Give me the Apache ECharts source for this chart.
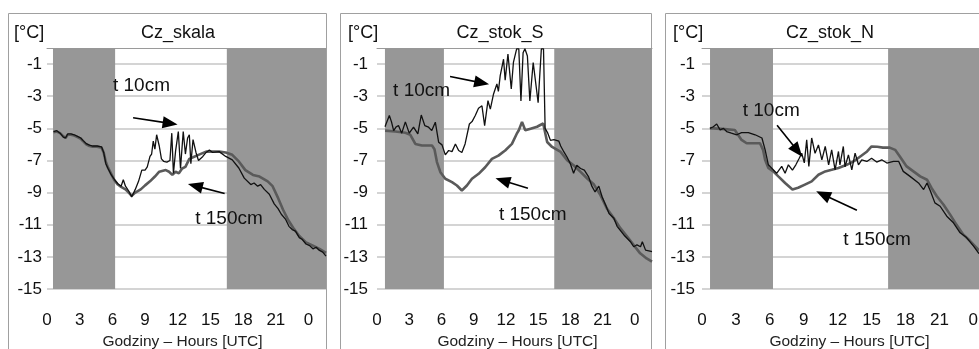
<!DOCTYPE html>
<html><head><meta charset="utf-8">
<script src="https://cdn.jsdelivr.net/npm/echarts@6/dist/echarts.min.js"></script>
<style>html,body{margin:0;padding:0;background:#fff}#c{width:979px;height:349px}</style>
</head><body><div id="c"></div>
<script>
// ---------- DATA ----------
const panelNames = ['Cz_skala', 'Cz_stok_S', 'Cz_stok_N'];
const seriesNames = ['t 10cm', 't 150cm'];
const unitLabel = '[°C]';
const xAxisTitle = 'Godziny – Hours [UTC]';

// [hour, °C]
const skala10 = [[0.6,-5.2],[0.9,-5.15],[1.2,-5.3],[1.5,-5.55],[1.7,-5.6],[1.9,-5.35],[2.2,-5.35],[2.5,-5.4],[2.8,-5.5],[3.1,-5.6],[3.3,-5.75],[3.6,-5.95],[3.9,-6.05],[4.2,-6.1],[4.6,-6.1],[5.0,-6.15],[5.2,-6.5],[5.4,-7.2],[5.6,-7.5],[5.9,-7.9],[6.2,-8.2],[6.5,-8.45],[6.8,-8.6],[7.0,-8.2],[7.2,-8.6],[7.5,-8.9],[7.77,-9.27],[8.1,-8.8],[8.4,-8.3],[8.7,-7.6],[9.0,-7.6],[9.2,-7.4],[9.45,-6.75],[9.6,-6.6],[9.75,-5.8],[9.9,-6.3],[10.06,-5.4],[10.3,-6.1],[10.5,-6.9],[10.7,-7.05],[11.0,-7.1],[11.28,-7.0],[11.45,-5.3],[11.6,-7.8],[11.8,-6.4],[12.05,-5.2],[12.25,-7.5],[12.5,-5.2],[12.7,-6.6],[12.9,-5.6],[13.06,-5.4],[13.2,-7.2],[13.4,-5.7],[13.67,-6.5],[13.9,-7.0],[14.3,-6.75],[14.6,-6.5],[14.9,-6.35],[15.2,-6.5],[15.8,-6.45],[16.4,-6.75],[17.0,-6.96],[17.6,-7.47],[18.1,-8.1],[18.7,-8.5],[19.0,-8.4],[19.33,-8.6],[19.6,-8.5],[19.94,-8.8],[20.4,-9.1],[20.85,-9.7],[21.2,-10.0],[21.5,-10.35],[21.9,-10.67],[22.2,-11.1],[22.5,-11.3],[22.8,-11.4],[23.15,-11.8],[23.4,-11.9],[23.76,-12.2],[24.1,-12.3],[24.4,-12.5],[24.7,-12.4],[25.0,-12.6],[25.3,-12.7],[25.6,-12.95]];
const skala150 = [[0.6,-5.25],[0.9,-5.2],[1.2,-5.3],[1.5,-5.5],[1.7,-5.6],[1.9,-5.4],[2.2,-5.4],[2.5,-5.45],[2.8,-5.55],[3.1,-5.65],[3.3,-5.8],[3.6,-6.0],[3.9,-6.1],[4.2,-6.15],[4.6,-6.15],[5.0,-6.2],[5.2,-6.5],[5.4,-7.1],[5.6,-7.45],[5.9,-7.85],[6.2,-8.25],[6.5,-8.5],[6.8,-8.65],[7.2,-8.8],[7.5,-9.0],[7.77,-9.2],[8.1,-9.0],[8.6,-8.8],[9.0,-8.55],[9.45,-8.3],[9.9,-8.0],[10.3,-7.7],[10.9,-7.6],[11.2,-7.7],[11.5,-7.9],[11.8,-7.7],[12.1,-7.8],[12.4,-7.5],[12.7,-7.4],[13.06,-6.9],[13.4,-6.8],[13.9,-6.65],[14.6,-6.45],[15.2,-6.45],[15.8,-6.45],[16.4,-6.5],[17.0,-6.65],[17.6,-7.06],[18.2,-7.6],[18.9,-7.9],[19.5,-8.0],[20.25,-8.3],[20.7,-8.6],[21.2,-9.33],[21.65,-10.05],[22.1,-10.67],[22.6,-11.2],[23.15,-11.7],[23.76,-12.1],[24.4,-12.3],[25.0,-12.5],[25.6,-12.75]];

const stokS10 = [[0.75,-4.9],[0.84,-4.73],[1.15,-4.2],[1.35,-4.6],[1.55,-5.14],[1.8,-4.9],[2.0,-4.83],[2.3,-5.3],[2.64,-4.6],[3.0,-5.3],[3.4,-4.93],[3.8,-5.35],[4.12,-4.17],[4.45,-4.83],[4.8,-4.93],[5.1,-5.14],[5.43,-4.62],[5.74,-5.87],[6.05,-6.03],[6.36,-6.65],[6.67,-6.38],[6.98,-6.45],[7.3,-5.97],[7.6,-6.38],[7.9,-6.5],[8.2,-5.97],[8.6,-4.73],[8.85,-4.58],[9.15,-4.2],[9.45,-3.75],[9.77,-3.6],[10.02,-4.83],[10.33,-3.28],[10.55,-3.8],[10.85,-2.86],[11.16,-2.24],[11.3,-2.7],[11.47,-1.72],[11.78,-0.7],[11.93,-2.0],[12.19,-0.38],[12.5,-2.55],[12.7,-0.9],[13.0,-0.05],[13.2,-0.05],[13.4,-3.3],[13.6,-0.3],[13.77,-0.05],[14.0,-0.5],[14.23,-3.3],[14.54,-0.9],[15.0,-3.4],[15.3,-0.05],[15.5,-0.05],[15.65,-5.0],[15.9,-5.3],[16.15,-5.75],[16.47,-5.7],[16.93,-5.8],[17.1,-6.1],[17.4,-6.47],[17.7,-6.8],[18.0,-7.2],[18.3,-7.8],[18.6,-7.3],[18.95,-7.5],[19.3,-7.6],[19.7,-8.02],[20.0,-8.6],[20.3,-8.96],[20.65,-8.6],[20.96,-9.27],[21.3,-9.8],[21.6,-10.3],[22.05,-10.6],[22.35,-11.1],[23.0,-11.65],[23.6,-12.06],[23.9,-12.37],[24.2,-12.25],[24.53,-12.37],[24.7,-12.06],[25.0,-12.58],[25.6,-12.67]];
const stokS150 = [[0.75,-5.14],[1.7,-5.2],[2.64,-5.28],[3.1,-5.4],[3.57,-5.97],[4.18,-6.07],[5.12,-6.07],[5.35,-6.3],[5.58,-7.1],[5.9,-7.73],[6.36,-8.14],[6.98,-8.35],[7.44,-8.56],[7.9,-8.87],[8.37,-8.56],[8.84,-8.14],[9.46,-7.83],[10.07,-7.42],[10.7,-6.9],[11.3,-6.7],[11.93,-6.38],[12.56,-5.97],[12.74,-5.85],[13.0,-5.35],[13.2,-5.12],[13.5,-4.6],[13.8,-5.12],[14.3,-5.02],[14.9,-4.9],[15.47,-4.7],[15.84,-5.85],[16.3,-6.16],[17.1,-6.47],[17.7,-6.99],[18.3,-7.3],[18.95,-7.71],[19.57,-8.12],[20.2,-8.5],[20.8,-9.16],[21.4,-9.99],[22.05,-10.6],[22.67,-11.23],[23.3,-11.75],[23.9,-12.27],[24.5,-12.78],[25.1,-13.1],[25.6,-13.3]];

const stokN10 = [[0.7,-5.0],[1.0,-4.9],[1.3,-4.73],[1.6,-5.1],[1.9,-5.0],[2.18,-5.2],[2.6,-5.3],[3.07,-5.4],[3.5,-5.27],[4.1,-5.27],[4.7,-5.4],[5.3,-5.6],[5.58,-6.33],[5.87,-7.27],[6.3,-7.58],[6.6,-7.8],[7.05,-7.37],[7.35,-7.8],[7.64,-7.27],[8.0,-7.6],[8.3,-7.27],[8.6,-6.86],[8.82,-6.55],[9.05,-7.15],[9.26,-5.72],[9.45,-7.37],[9.7,-5.6],[10.0,-6.55],[10.3,-6.03],[10.6,-6.96],[10.9,-6.13],[11.2,-7.27],[11.47,-6.34],[11.77,-7.58],[12.07,-6.44],[12.2,-7.27],[12.5,-6.13],[12.65,-7.4],[12.95,-6.65],[13.25,-7.58],[13.54,-6.55],[13.84,-7.27],[14.13,-6.96],[14.58,-7.06],[15.0,-6.86],[15.45,-7.1],[15.9,-6.96],[16.35,-7.16],[16.93,-7.06],[17.4,-7.06],[17.8,-7.68],[18.4,-7.99],[19.15,-8.4],[19.6,-8.81],[19.9,-8.4],[20.2,-8.9],[20.6,-9.64],[21.06,-9.85],[21.65,-10.47],[22.24,-10.88],[22.83,-11.5],[23.4,-11.8],[24.0,-12.32],[24.5,-12.8]];
const stokN150 = [[0.7,-5.0],[1.0,-5.0],[2.0,-5.05],[2.9,-5.1],[3.5,-5.72],[3.95,-5.93],[4.4,-5.93],[5.13,-5.93],[5.4,-6.34],[5.58,-6.96],[5.87,-7.47],[6.3,-7.68],[6.75,-7.99],[7.35,-8.4],[8.0,-8.81],[8.5,-8.7],[9.1,-8.5],[9.7,-8.3],[10.3,-7.89],[10.9,-7.68],[11.47,-7.58],[12.07,-7.47],[12.8,-7.27],[13.4,-7.06],[14.0,-6.75],[14.6,-6.44],[15.0,-6.13],[15.5,-6.15],[16.0,-6.2],[16.6,-6.2],[17.08,-6.34],[17.5,-6.75],[18.1,-7.37],[18.7,-7.68],[19.3,-7.99],[19.9,-8.2],[20.3,-8.71],[20.77,-9.23],[21.35,-9.74],[21.95,-10.37],[22.5,-10.99],[23.1,-11.6],[23.7,-12.0],[24.5,-12.6]];

// night (shaded) periods, hours
const nightBands = [
  [[0.55, 6.25], [16.5, 25.6]],
  [[0.74, 6.23], [16.5, 25.6]],
  [[0.71, 6.28], [16.46, 24.5]]
];
const xMax = [25.6, 25.6, 24.5];
const yMin = -15, yMax = 0, yStep = 2, xStep = 3;

// annotations [hour, °C]
const label10Pos = [[6.05, -2.35], [1.5, -2.64], [3.6, -3.88]];
const label150Pos = [[13.6, -10.6], [11.35, -10.4], [12.5, -11.96]];
const arrow10 = [[[7.9, -4.34], [11.3, -4.69]], [[6.8, -1.77], [9.75, -2.17]], [[6.64, -4.81], [8.45, -6.4]]];
const arrow150 = [[[16.3, -9.05], [13.6, -8.58]], [[14.05, -8.73], [11.7, -8.25]], [[13.7, -10.1], [10.7, -9.12]]];

const data10 = [skala10, stokS10, stokN10];
const data150 = [skala150, stokS150, stokN150];

// ---------- LAYOUT ----------
const layout = [
  { left: 47,  right: 979 - 326, margin: 5, frame: [8, 326],   unitX: 14,  titleX: 178, nameShift: -4 },
  { left: 377, right: 979 - 652, margin: 9, frame: [340, 651], unitX: 348, titleX: 500, nameShift: 3 },
  { left: 702, right: 0,         margin: 7, frame: [665, 990], unitX: 673, titleX: 830, nameShift: 9 }
];
const FONT = '"Liberation Sans", Arial, sans-serif';

const chart = echarts.init(document.getElementById('c'), null, { renderer: 'canvas' });

const grids = [], xAxes = [], yAxes = [], series = [], graphics = [];
layout.forEach((L, i) => {
  grids.push({ left: L.left, right: L.right, top: 48, bottom: 60, containLabel: false, outerBoundsMode: 'none' });
  xAxes.push({
    type: 'value', gridIndex: i, min: 0, max: xMax[i], interval: xStep,
    axisLine: { show: true, lineStyle: { color: '#9a9a9a', width: 1 } },
    axisTick: { show: false },
    splitLine: { show: false },
    axisLabel: { color: '#111', fontSize: 17, fontFamily: FONT, margin: 23, showMaxLabel: false,
      formatter: v => String(Math.round(v) % 24) },
    name: xAxisTitle, nameLocation: 'middle', nameGap: 44,
    nameTextStyle: { color: '#222', fontSize: 15.5, fontFamily: FONT, padding: [0, 0, 0, 2 * L.nameShift] }
  });
  yAxes.push({
    type: 'value', gridIndex: i, min: yMin, max: yMax, interval: yStep,
    axisLine: { show: false }, axisTick: { show: false },
    splitLine: { show: true, lineStyle: { color: ['#c6c6c6','#c6c6c6','#c6c6c6','#c6c6c6','#c6c6c6','#c6c6c6','#c6c6c6','#c6c6c6','rgba(0,0,0,0)'], width: 1.5 } },
    axisLabel: { color: '#111', fontSize: 17, fontFamily: FONT, margin: L.margin, showMaxLabel: false }
  });
  series.push({
    name: seriesNames[1], type: 'line', xAxisIndex: i, yAxisIndex: i, z: 2,
    data: data150[i], showSymbol: false, symbol: 'none',
    lineStyle: { color: '#5a5a5a', width: 2.6 },
    markArea: { silent: true, itemStyle: { color: '#979797' },
      data: nightBands[i].map(b => [{ xAxis: b[0], yAxis: yMin }, { xAxis: b[1], yAxis: yMax }]) }
  });
  series.push({
    name: seriesNames[0], type: 'line', xAxisIndex: i, yAxisIndex: i, z: 3,
    data: data10[i], showSymbol: false, symbol: 'none',
    lineStyle: { color: '#111', width: 1.3 },
    markLine: { silent: true, symbol: ['none', 'triangle'], symbolSize: [12, 15],
      lineStyle: { color: '#000', width: 1.6, type: 'solid' }, label: { show: false },
      data: [
        [{ coord: arrow10[i][0] }, { coord: arrow10[i][1] }],
        [{ coord: arrow150[i][0] }, { coord: arrow150[i][1] }]
      ] },
    markPoint: { silent: true, symbol: 'circle', symbolSize: 0,
      label: { show: true, position: 'right', distance: 0, color: '#111', fontSize: 19, fontFamily: FONT },
      data: [
        { coord: label10Pos[i], value: seriesNames[0], label: { formatter: seriesNames[0] } },
        { coord: label150Pos[i], value: seriesNames[1], label: { formatter: seriesNames[1] } }
      ] }
  });
  // panel frame
  graphics.push({ type: 'rect', shape: { x: L.frame[0] + 0.5, y: 13.5, width: L.frame[1] - L.frame[0], height: 400 },
    style: { fill: 'none', stroke: '#a0a0a0', lineWidth: 1 }, z: -1 });
  graphics.push({ type: 'text', x: L.unitX, y: 33, style: { text: unitLabel, font: '18px ' + FONT, fill: '#111', textVerticalAlign: 'middle' } });
  graphics.push({ type: 'text', x: L.titleX, y: 33, style: { text: panelNames[i], font: '18px ' + FONT, fill: '#111', textAlign: 'center', textVerticalAlign: 'middle' } });
});

chart.setOption({
  animation: false,
  backgroundColor: '#fff',
  grid: grids, xAxis: xAxes, yAxis: yAxes, series: series, graphic: graphics
});
</script></body></html>
